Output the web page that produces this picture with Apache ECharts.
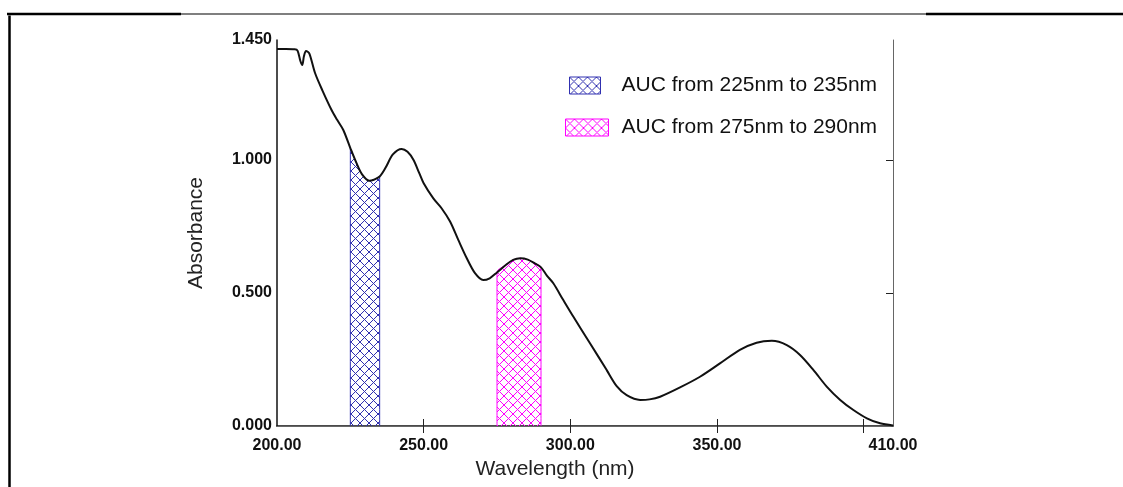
<!DOCTYPE html>
<html>
<head>
<meta charset="utf-8">
<script src="https://cdn.jsdelivr.net/npm/echarts@6/dist/echarts.min.js"></script>
<style>html,body{margin:0;padding:0;background:#fff;}#c{width:1123px;height:487px;}</style>
</head>
<body>
<div id="c"></div>
<script>
// Data
const wavelength = [200,203,206,207,208,208.6,209.2,209.9,211,213,215.5,218.6,220.5,222.6,225,227,229,231.5,233,235,237,239.5,242.5,244.5,246.5,248.5,250,253.3,256.1,259,261.8,264.7,267.5,270.3,272.5,275,278,280.5,283,285.5,288,290,292,294.2,297.6,301,306.7,312.4,315.8,319.2,323.8,327,330.6,337.4,344.2,351,357.8,363.5,368.7,373.8,378.3,382.9,387.4,392,396.5,401.1,405.6,410];
const absorbance = [1.416,1.416,1.415,1.41,1.37,1.356,1.39,1.409,1.40,1.325,1.26,1.187,1.15,1.112,1.044,0.99,0.945,0.921,0.925,0.937,0.97,1.02,1.041,1.03,1.0,0.95,0.912,0.855,0.818,0.768,0.699,0.630,0.574,0.548,0.555,0.577,0.605,0.624,0.630,0.625,0.610,0.596,0.565,0.536,0.473,0.411,0.311,0.210,0.150,0.116,0.098,0.100,0.110,0.145,0.185,0.235,0.286,0.313,0.320,0.304,0.267,0.210,0.148,0.098,0.060,0.029,0.010,0.002];
const aucNames = ['AUC from 225nm to 235nm','AUC from 275nm to 290nm'];
const aucRanges = [[225,235],[275,290]];
const xLabelValues = [200,250,300,350,410];
const xTickValues = [250,300,350,400];
const yLabelValues = [0,0.5,1.0,1.45];
const yTickValues = [0.5,1.0];

const aucColors = ['#3030b0','#ff00ff'];

function hatch(color){
  const c = document.createElement('canvas');
  const s = 9;
  c.width = s; c.height = s;
  const g = c.getContext('2d');
  g.strokeStyle = color; g.lineWidth = 1;
  g.beginPath();
  g.moveTo(0,0); g.lineTo(s,s);
  g.moveTo(s,0); g.lineTo(0,s);
  g.stroke();
  return {image: c, repeat: 'repeat'};
}

const curve = wavelength.map((w,i)=>[w,absorbance[i]]);
function aucData(r){
  const pts = curve.filter(p=>p[0]>=r[0] && p[0]<=r[1]);
  return [[r[0],0]].concat(pts, [[r[1],0]]);
}

const patterns = aucColors.map(hatch);

const aucSeries = aucRanges.map((r,i)=>({
  name: aucNames[i],
  type: 'line',
  data: aucData(r),
  showSymbol: false,
  smooth: 0.3,
  lineStyle: {color: aucColors[i], width: 1},
  itemStyle: {color: patterns[i], borderColor: aucColors[i]},
  areaStyle: {color: patterns[i], opacity: 1},
  z: 2,
  silent: true
}));

const labelFont = {fontFamily: 'Liberation Sans', fontWeight: 'bold', fontSize: 16, color: '#111'};
const legendText = {fontFamily: 'Liberation Sans', fontSize: 21, color: '#111'};

const chart = echarts.init(document.getElementById('c'), null, {renderer: 'canvas'});
chart.setOption({
  animation: false,
  backgroundColor: '#fff',
  grid: {left: 277, right: 230, top: 40, bottom: 61},
  legend: [
    {data: [{name: aucNames[0], icon: 'rect', itemStyle: {color: patterns[0], borderColor: aucColors[0], borderWidth: 1}}],
     left: 569, top: 75, padding: 0, itemWidth: 31, itemHeight: 17, selectedMode: false,
     textStyle: Object.assign({padding: [0,0,0,16]}, legendText)},
    {data: [{name: aucNames[1], icon: 'rect', itemStyle: {color: patterns[1], borderColor: aucColors[1], borderWidth: 1}}],
     left: 565, top: 117, padding: 0, itemWidth: 43, itemHeight: 17, selectedMode: false,
     textStyle: Object.assign({padding: [0,0,0,8]}, legendText)}
  ],
  xAxis: [
    {type: 'value', min: 200, max: 410, position: 'bottom',
     name: 'Wavelength (nm)', nameLocation: 'middle', nameGap: 33,
     nameTextStyle: {fontFamily: 'Liberation Sans', fontSize: 21, color: '#222', padding: [0,60,0,0]},
     axisLine: {show: true, lineStyle: {color: '#111', width: 1.5}},
     axisTick: {show: true, inside: true, length: 7, customValues: xTickValues, lineStyle: {color: '#222'}},
     axisLabel: {show: true, customValues: xLabelValues, margin: 12, formatter: v=>v.toFixed(2), ...labelFont},
     splitLine: {show: false}},
    {type: 'value', min: 200, max: 410, position: 'top',
     axisLine: {show: true, lineStyle: {color: '#666', width: 1}},
     axisTick: {show: true, inside: true, length: 7, customValues: xTickValues, lineStyle: {color: '#222'}},
     axisLabel: {show: false}, splitLine: {show: false}}
  ],
  yAxis: [
    {type: 'value', min: 0, max: 1.45, position: 'left',
     name: 'Absorbance', nameLocation: 'middle', nameGap: 70,
     nameTextStyle: {fontFamily: 'Liberation Sans', fontSize: 21, color: '#222'},
     axisLine: {show: true, lineStyle: {color: '#111', width: 1.5}},
     axisTick: {show: false},
     axisLabel: {show: true, customValues: yLabelValues, margin: 5, formatter: v=>v.toFixed(3), ...labelFont},
     splitLine: {show: false}},
    {type: 'value', min: 0, max: 1.45, position: 'right',
     axisLine: {show: true, lineStyle: {color: '#666', width: 1}},
     axisTick: {show: true, inside: true, length: 7, customValues: yTickValues, lineStyle: {color: '#222'}},
     axisLabel: {show: false}, splitLine: {show: false}}
  ],
  series: aucSeries.concat([{
    name: 'Spectrum',
    type: 'line',
    data: curve,
    showSymbol: false,
    smooth: 0.3,
    lineStyle: {color: '#111', width: 2},
    z: 5,
    silent: true
  }]),
  graphic: [
    {type: 'line', shape: {x1: 8, y1: 0, x2: 8, y2: 487}, top: 13, left: 7, style: {stroke: '#000', lineWidth: 2.5}, silent: true},
    {type: 'line', shape: {x1: 7, y1: 14, x2: 181, y2: 14}, style: {stroke: '#000', lineWidth: 2.5}, silent: true},
    {type: 'line', shape: {x1: 181, y1: 14, x2: 926, y2: 14}, style: {stroke: '#000', lineWidth: 1.2}, silent: true},
    {type: 'line', shape: {x1: 926, y1: 14, x2: 1123, y2: 14}, style: {stroke: '#000', lineWidth: 2.5}, silent: true}
  ]
});
</script>
</body>
</html>
